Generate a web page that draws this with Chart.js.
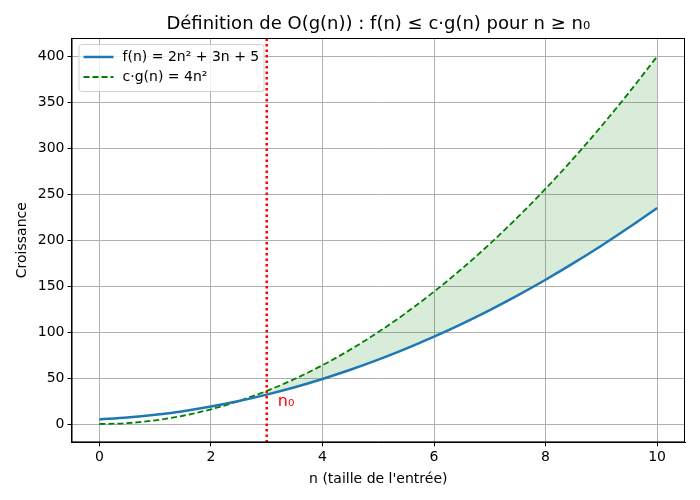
<!DOCTYPE html>
<html lang="fr">
<head>
  <meta charset="UTF-8">
  <title>Définition de O(g(n))</title>
  <script src="https://cdn.jsdelivr.net/npm/chart.js"></script>
  <style>
    html, body { margin: 0; padding: 0; background: #fff; }
    #wrap { width: 700px; height: 500px; }
  </style>
</head>
<body>
<div id="wrap"><canvas id="bigO"></canvas></div>
<script>
  // values
  const nValues = [0, 0.5, 1, 1.5, 2, 2.5, 3, 3.5, 4, 4.5, 5, 5.5, 6, 6.5, 7, 7.5, 8, 8.5, 9, 9.5, 10];
  const fValues = [5, 7, 10, 14, 19, 25, 32, 40, 49, 59, 70, 82, 95, 109, 124, 140, 157, 175, 194, 214, 235];
  const gValues = [0, 1, 4, 9, 16, 25, 36, 49, 64, 81, 100, 121, 144, 169, 196, 225, 256, 289, 324, 361, 400];
  const n0 = 3;
  const xTicks = [0, 2, 4, 6, 8, 10];
  const yTicks = [0, 50, 100, 150, 200, 250, 300, 350, 400];
  const fLabel = 'f(n) = 2n² + 3n + 5';
  const gLabel = 'c·g(n) = 4n²';
  const titleText = 'Définition de O(g(n)) : f(n) ≤ c·g(n) pour n ≥ n₀';

  const FONT = "'DejaVu Sans', sans-serif";
  const toPts = ys => nValues.map((n, i) => ({ x: n, y: ys[i] }));

  // title over the plot area, box, n0 label and legend inside the axes
  const extras = {
    id: 'extras',
    afterDraw(chart) {
      const { ctx, chartArea: a, scales: { x, y } } = chart;
      ctx.save();
      ctx.fillStyle = '#000';
      ctx.font = '18px ' + FONT;
      ctx.textAlign = 'center';
      ctx.textBaseline = 'middle';
      ctx.fillText(titleText, (a.left + a.right) / 2, 24);
      ctx.textAlign = 'left';

      ctx.strokeStyle = '#000';
      ctx.lineWidth = 1;
      ctx.strokeRect(a.left + 0.5, a.top + 0.5, a.right - a.left - 1, a.bottom - a.top - 1);

      ctx.fillStyle = 'red';
      ctx.font = '16px ' + FONT;
      ctx.textBaseline = 'alphabetic';
      ctx.fillText('n₀', x.getPixelForValue(3.2), y.getPixelForValue(20));

      // legend
      const lx = a.left + 7, ly = a.top + 6, lw = 185, lh = 47;
      ctx.fillStyle = 'rgba(255,255,255,0.8)';
      ctx.strokeStyle = '#d0d0d0';
      ctx.beginPath();
      ctx.roundRect(lx + 0.5, ly + 0.5, lw, lh, 3);
      ctx.fill();
      ctx.stroke();
      ctx.font = '14px ' + FONT;
      ctx.textBaseline = 'middle';
      const rows = [
        { text: fLabel, color: '#1f77b4', dash: [], width: 2.5 },
        { text: gLabel, color: 'green', dash: [6, 3], width: 1.8 }
      ];
      rows.forEach((r, i) => {
        const yy = ly + 13 + i * 20;
        ctx.strokeStyle = r.color;
        ctx.lineWidth = r.width;
        ctx.setLineDash(r.dash);
        ctx.beginPath();
        ctx.moveTo(lx + 5, yy);
        ctx.lineTo(lx + 35, yy);
        ctx.stroke();
        ctx.setLineDash([]);
        ctx.fillStyle = '#000';
        ctx.fillText(r.text, lx + 44, yy);
      });
      ctx.restore();
    }
  };

  new Chart(document.getElementById('bigO'), {
    type: 'line',
    data: {
      datasets: [
        {
          label: fLabel,
          data: toPts(fValues),
          borderColor: '#1f77b4',
          borderWidth: 2.5,
          pointRadius: 0,
          cubicInterpolationMode: 'monotone',
          fill: false,
          order: 1
        },
        {
          label: gLabel,
          data: toPts(gValues),
          borderColor: 'green',
          borderWidth: 1.8,
          borderDash: [6, 3],
          pointRadius: 0,
          cubicInterpolationMode: 'monotone',
          fill: { target: 0, above: 'rgba(0,128,0,0.15)', below: 'rgba(0,0,0,0)' },
          order: 2
        },
        {
          label: 'n0',
          data: [{ x: n0, y: -20 }, { x: n0, y: 420 }],
          borderColor: 'red',
          borderWidth: 2.5,
          borderDash: [2.5, 3],
          pointRadius: 0,
          fill: false,
          order: 0
        }
      ]
    },
    options: {
      responsive: true,
      maintainAspectRatio: false,
      animation: false,
      layout: { padding: { left: 10, right: 15, top: 38, bottom: 8 } },
      plugins: {
        legend: { display: false },
        tooltip: { enabled: false },
        title: { display: false }
      },
      scales: {
        x: {
          type: 'linear',
          min: -0.5,
          max: 10.5,
          afterBuildTicks: s => { s.ticks = xTicks.map(v => ({ value: v })); },
          grid: { color: '#b0b0b0', tickColor: '#000', tickLength: 4 },
          border: { color: '#000' },
          ticks: { color: '#000', font: { family: FONT, size: 14 }, padding: 3 },
          title: {
            display: true,
            text: "n (taille de l'entrée)",
            color: '#000',
            font: { family: FONT, size: 14 },
            padding: { top: 2 }
          }
        },
        y: {
          min: -20,
          max: 420,
          afterBuildTicks: s => { s.ticks = yTicks.map(v => ({ value: v })); },
          grid: { color: '#b0b0b0', tickColor: '#000', tickLength: 4 },
          border: { color: '#000' },
          ticks: { color: '#000', font: { family: FONT, size: 14 }, padding: 3 },
          title: {
            display: true,
            text: 'Croissance',
            color: '#000',
            font: { family: FONT, size: 14 },
            padding: { bottom: 4 }
          }
        }
      }
    },
    plugins: [extras]
  });
</script>
</body>
</html>
